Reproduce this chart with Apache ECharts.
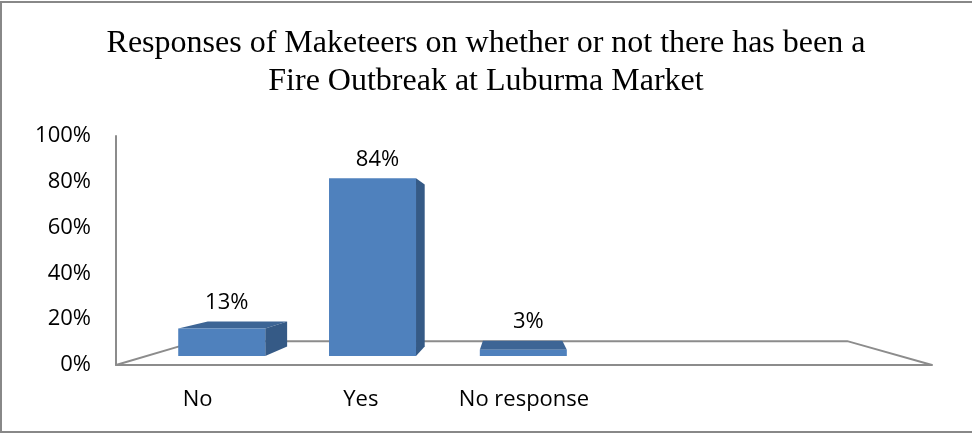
<!DOCTYPE html>
<html>
<head>
<meta charset="utf-8">
<script src="https://cdn.jsdelivr.net/npm/echarts@6/dist/echarts.min.js"></script>
<style>
  html, body { margin: 0; padding: 0; background: #fff; }
  #chart { width: 972px; height: 434px; }
</style>
</head>
<body>
<div id="chart"></div>
<script>
// Survey answers (percent of marketeers); the two trailing slots are empty columns.
const categories = ['No', 'Yes', 'No response', '', ''];
const responses = [13, 84, 3, null, null];
const yTicks = [0, 20, 40, 60, 80, 100];

const titleText = 'Responses of Maketeers on whether or not there has been a\nFire Outbreak at Luburma Market';

// Perspective set-up: vanishing point as a fraction of the plot box,
// and depth scale factors for the bar front, bar back and floor back.
const VP_X = 0.489, VP_Y = 0.487;
const FRONT = 0.924, BACK = 0.843, FLOOR_BACK = 0.797;
const BAR_RATIO = 0.577;

const LABEL_FONT = '"Open Sans", "Noto Sans", sans-serif';
const LINE_GREY = '#8c8c8c';

function vanishing(cs) {
  return [cs.x + cs.width * VP_X, cs.y + cs.height * VP_Y];
}

function renderFloor(params, api) {
  const cs = params.coordSys;
  const vp = vanishing(cs);
  const proj = (x, y, s) => [vp[0] + (x - vp[0]) * s, vp[1] + (y - vp[1]) * s];
  const yb = cs.y + cs.height;
  const fl = [cs.x, yb], fr = [cs.x + cs.width, yb];
  return {
    type: 'polyline',
    shape: { points: [fl, proj(fl[0], fl[1], FLOOR_BACK), proj(fr[0], fr[1], FLOOR_BACK), fr] },
    style: { stroke: LINE_GREY, lineWidth: 2, fill: null },
    silent: true
  };
}

function renderBar(params, api) {
  const cs = params.coordSys;
  const vp = vanishing(cs);
  const proj = (p, s) => [vp[0] + (p[0] - vp[0]) * s, vp[1] + (p[1] - vp[1]) * s];
  const idx = api.value(0), v = api.value(1);
  const base = api.coord([idx, 0]);
  const top = api.coord([idx, v]);
  const half = api.size([1, 0])[0] * BAR_RATIO / 2;
  const lt = [base[0] - half, top[1]], rt = [base[0] + half, top[1]];
  const lb = [base[0] - half, base[1]], rb = [base[0] + half, base[1]];
  const f = { lt: proj(lt, FRONT), rt: proj(rt, FRONT), lb: proj(lb, FRONT), rb: proj(rb, FRONT) };
  const b = { lt: proj(lt, BACK), rt: proj(rt, BACK), lb: proj(lb, BACK), rb: proj(rb, BACK) };
  const children = [];
  if (f.lt[1] > vp[1]) {
    children.push({ type: 'polygon', shape: { points: [f.lt, f.rt, b.rt, b.lt] }, style: { fill: '#3d6595' } });
  }
  if (f.rt[0] < vp[0]) {
    children.push({ type: 'polygon', shape: { points: [f.rt, f.rb, b.rb, b.rt] }, style: { fill: '#355a86' } });
  }
  if (f.lt[0] > vp[0]) {
    children.push({ type: 'polygon', shape: { points: [f.lt, f.lb, b.lb, b.lt] }, style: { fill: '#355a86' } });
  }
  children.push({ type: 'polygon', shape: { points: [f.lt, f.rt, f.rb, f.lb] }, style: { fill: '#4f81bd' } });
  children.push({
    type: 'text',
    style: {
      text: v + '%',
      x: (f.lt[0] + f.rt[0]) / 2 + 5,
      y: Math.min(f.lt[1], b.lt[1]) - 19,
      align: 'center',
      verticalAlign: 'middle',
      fill: '#000',
      font: '22px ' + LABEL_FONT
    }
  });
  return { type: 'group', children: children };
}

const barData = responses
  .map((v, i) => (v == null ? null : [i, v]))
  .filter(d => d !== null);

const chart = echarts.init(document.getElementById('chart'), null, { renderer: 'canvas' });
chart.setOption({
  backgroundColor: '#fff',
  animation: false,
  title: {
    text: titleText,
    left: 'center',
    top: 20,
    textStyle: {
      fontFamily: '"Liberation Serif", "Times New Roman", serif',
      fontSize: 32,
      fontWeight: 'normal',
      lineHeight: 38,
      color: '#000'
    }
  },
  graphic: [{
    type: 'rect',
    shape: { x: 1, y: 2, width: 980, height: 430 },
    style: { fill: null, stroke: '#888', lineWidth: 2 },
    silent: true,
    z: 100
  }],
  grid: { left: 116, top: 136, width: 816, height: 229 },
  xAxis: {
    type: 'category',
    data: categories,
    axisLine: { show: true, lineStyle: { color: LINE_GREY, width: 2 } },
    axisTick: { show: false },
    axisLabel: { color: '#000', fontSize: 22, fontFamily: LABEL_FONT, margin: 24, interval: 0 },
    splitLine: { show: false }
  },
  yAxis: {
    type: 'value',
    min: yTicks[0],
    max: yTicks[yTicks.length - 1],
    interval: yTicks[1] - yTicks[0],
    axisLine: { show: true, lineStyle: { color: LINE_GREY, width: 2 } },
    axisTick: { show: false },
    splitLine: { show: false },
    axisLabel: { color: '#000', fontSize: 22, fontFamily: LABEL_FONT, margin: 25, formatter: '{value}%' }
  },
  series: [
    {
      type: 'custom',
      name: 'floor',
      renderItem: renderFloor,
      data: [[0, 0]],
      clip: false,
      silent: true,
      z: 1
    },
    {
      type: 'custom',
      name: 'Responses',
      renderItem: renderBar,
      encode: { x: 0, y: 1 },
      data: barData,
      clip: false,
      z: 5
    }
  ]
});
</script>
</body>
</html>
